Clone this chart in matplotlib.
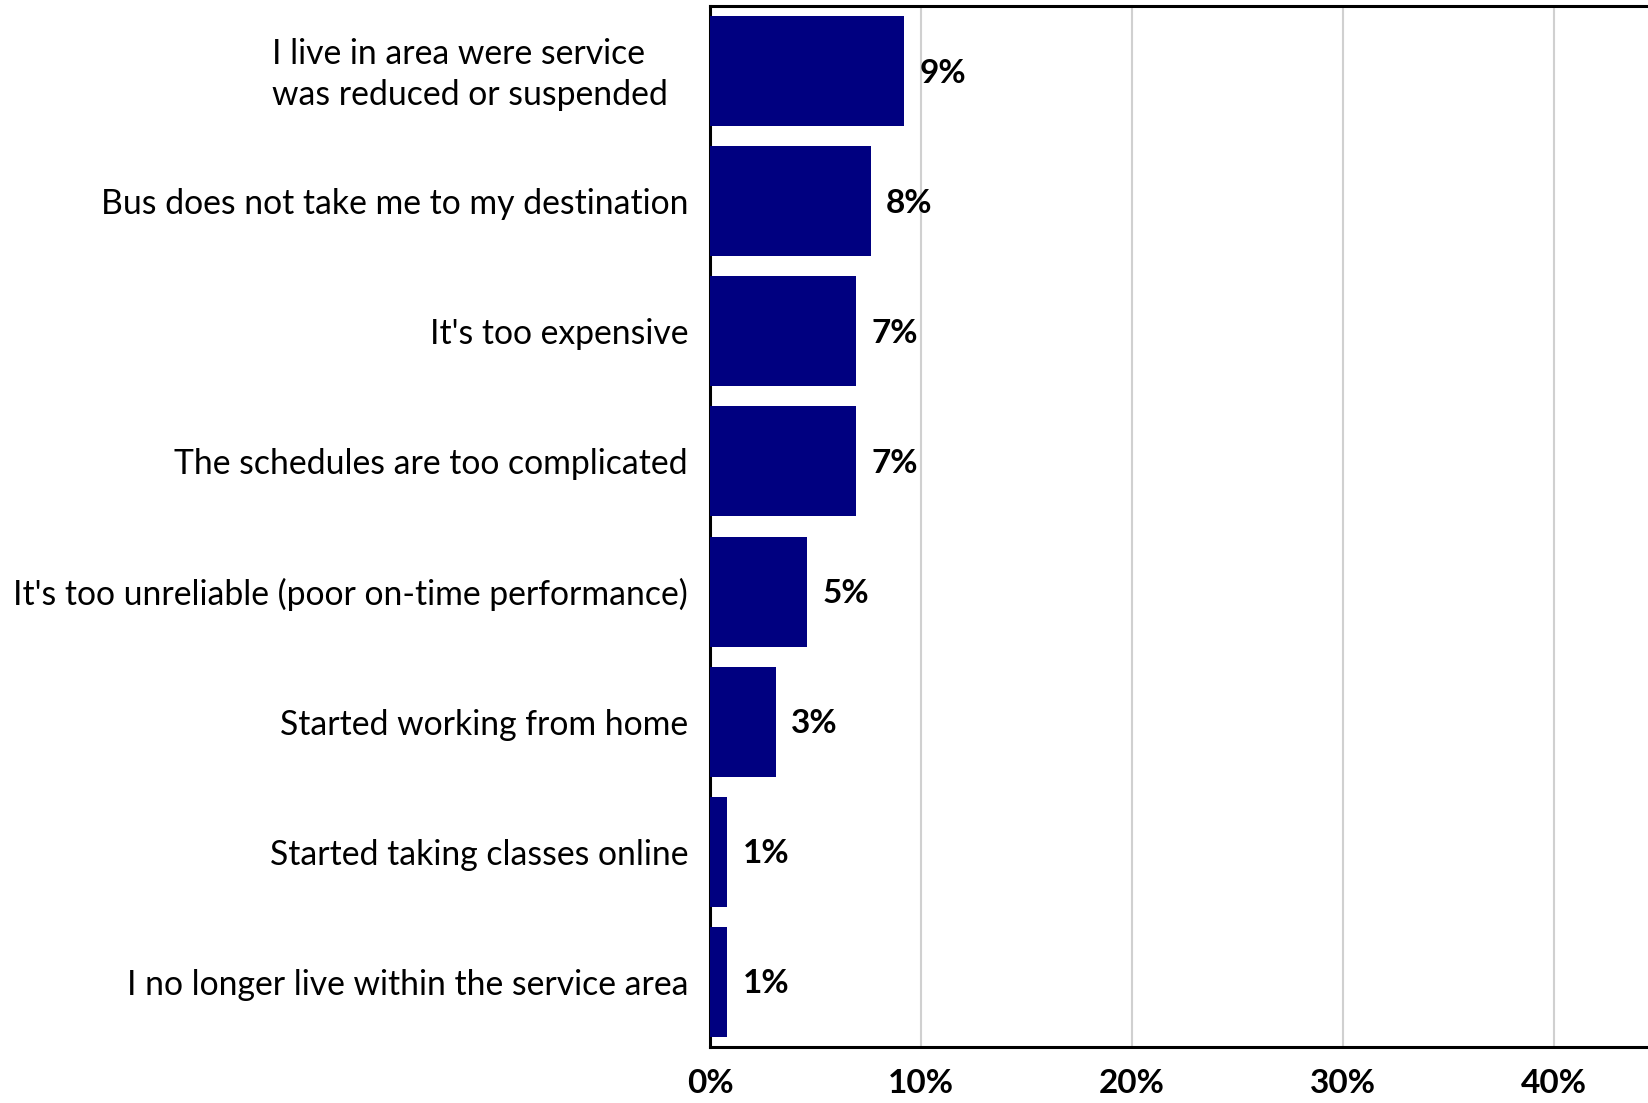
import matplotlib
matplotlib.use("Agg")
import matplotlib.pyplot as plt
from matplotlib.ticker import FixedLocator, FuncFormatter
from matplotlib.transforms import ScaledTranslation

categories = [
    "I live in area were service\nwas reduced or suspended",
    "Bus does not take me to my destination",
    "It's too expensive",
    "The schedules are too complicated",
    "It's too unreliable (poor on-time performance)",
    "Started working from home",
    "Started taking classes online",
    "I no longer live within the service area",
]
shares = [0.092, 0.076, 0.069, 0.069, 0.046, 0.031, 0.008, 0.008]
x_ticks = [0.0, 0.1, 0.2, 0.3, 0.4]

plt.rcParams["font.family"] = ["Lato", "DejaVu Sans"]

fig = plt.figure(figsize=(16.48, 11.03), dpi=100)
ax = fig.add_axes([0.431, 0.0508, 0.640, 0.9438])

ypos = list(range(len(categories)))
ax.barh(ypos, shares, height=0.845, color="#000080", zorder=3)
ax.set_ylim(len(categories) - 0.5, -0.5)
ax.set_xlim(0, 0.5)

for y, v in zip(ypos, shares):
    ax.annotate(f"{v:.0%}", xy=(v, y), xytext=(11, -1.5), textcoords="offset points",
                va="center", ha="left", fontsize=24, fontweight="bold", color="black")

ax.set_yticks(ypos)
ax.set_yticklabels(categories, fontsize=24.3, multialignment="left", linespacing=1.35)
ax.tick_params(axis="y", length=0, pad=16)
# the wrapped label sits a little further left than the single-line ones
first = ax.get_yticklabels()[0]
first.set_transform(first.get_transform() + ScaledTranslation(-0.2, 0.04, fig.dpi_scale_trans))

ax.xaxis.set_major_locator(FixedLocator(x_ticks))
ax.xaxis.set_major_formatter(FuncFormatter(lambda v, p: f"{v:.0%}"))
ax.tick_params(axis="x", length=0, pad=16, labelsize=24)
for lbl in ax.get_xticklabels():
    lbl.set_fontweight("bold")

ax.grid(axis="x", color="#d0d0d0", linewidth=1.5, zorder=0)
ax.set_axisbelow(True)
for side in ("left", "top", "bottom"):
    ax.spines[side].set_linewidth(2.2)
    ax.spines[side].set_color("black")
ax.spines["right"].set_visible(False)

fig.savefig("out.png", dpi=100)
